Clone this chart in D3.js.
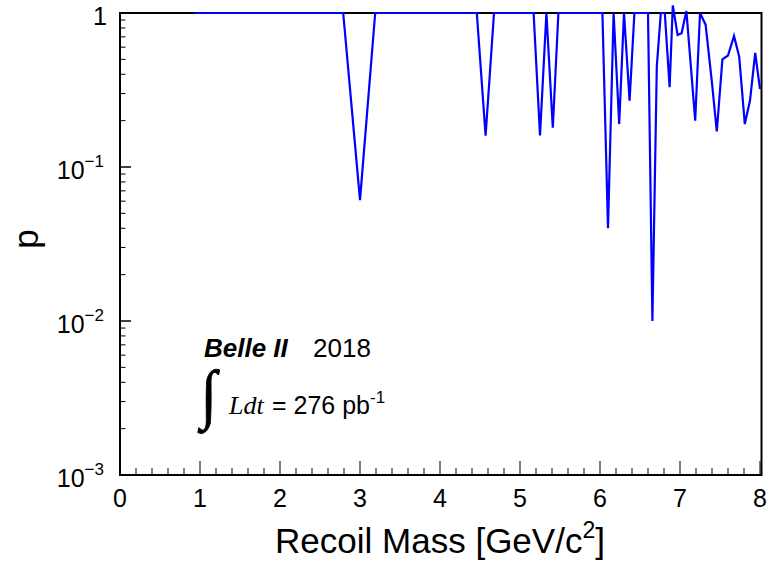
<!DOCTYPE html>
<html><head><meta charset="utf-8">
<script src="https://cdn.jsdelivr.net/npm/d3@7"></script>
<style>body{margin:0;background:#fff}svg{display:block}text{font-family:"Liberation Sans",Arial,sans-serif}</style>
</head><body>
<svg id="c" width="768" height="570"></svg>
<script>
const mass = [0.94, 2.79, 3.0, 3.19, 4.46, 4.57, 4.675, 5.17, 5.25, 5.33, 5.41, 5.48, 6.03, 6.10, 6.17, 6.24, 6.30, 6.37, 6.43, 6.60, 6.655, 6.71, 6.76, 6.81, 6.87, 6.91, 6.97, 7.02, 7.08, 7.19, 7.25, 7.32, 7.40, 7.46, 7.53, 7.60, 7.675, 7.74, 7.81, 7.875, 7.94, 8.0];
const pval = [1, 1, 0.061, 1, 1, 0.16, 1, 1, 0.16, 1, 0.18, 1, 1, 0.040, 1, 0.19, 1, 0.27, 1, 1, 0.010, 0.45, 1, 1, 0.33, 1.12, 0.72, 0.74, 1.03, 0.20, 1, 0.84, 0.35, 0.17, 0.50, 0.53, 0.71, 0.52, 0.19, 0.27, 0.55, 0.32];
const xTicks = [0,1,2,3,4,5,6,7,8];
const yTicks = [1, 0.1, 0.01, 0.001];
const yTickExp = ["", "\u22121", "\u22122", "\u22123"];
const xTitle = "Recoil Mass [GeV/c";
const yTitle = "p";

const svg = d3.select("#c");
const L = 120, R = 761.5, T = 13, B = 475;
const x = d3.scaleLinear().domain([0, 8.0187]).range([L, R]);
const y = d3.scaleLog().domain([1e-3, 1]).range([B, T]);

// x ticks (inside)
const xMinor = d3.range(0, 8.01, 0.2);
svg.append("g").selectAll("line").data(xMinor).join("line")
  .attr("x1", d => x(d)).attr("x2", d => x(d))
  .attr("y1", B).attr("y2", d => Math.abs(d - Math.round(d)) < 1e-6 ? B - 14 : B - 7)
  .attr("stroke", "#000").attr("stroke-width", 1);
// y ticks
const yMinor = [];
[0.001, 0.01, 0.1].forEach(dec => { for (let k = 1; k <= 10; k++) yMinor.push(dec * k); });
svg.append("g").selectAll("line").data(yMinor).join("line")
  .attr("x1", L).attr("y1", d => y(d)).attr("y2", d => y(d))
  .attr("x2", d => { const l = Math.log10(d); return Math.abs(l - Math.round(l)) < 1e-6 ? L + 11 : L + 5.5; })
  .attr("stroke", "#000").attr("stroke-width", 1);

// frame
svg.append("rect").attr("x", L).attr("y", T).attr("width", R - L).attr("height", B - T)
  .attr("fill", "none").attr("stroke", "#000").attr("stroke-width", 2);

// x tick labels
svg.append("g").selectAll("text").data(xTicks).join("text")
  .attr("x", d => x(d)).attr("y", 507).attr("text-anchor", "middle")
  .attr("font-size", 25).text(d => d);

// y tick labels
const yl = svg.append("g").selectAll("text").data(yTicks).join("text")
  .attr("text-anchor", "end").attr("font-size", 25)
  .attr("x", 107).attr("y", d => y(d) + 12);
yl.each(function(d, i) {
  const t = d3.select(this);
  if (i === 0) { t.text("1"); return; }
  t.attr("x", 104);
  t.append("tspan").text("10");
  t.append("tspan").attr("font-size", 17).attr("dy", -12).text(yTickExp[i]);
});

// titles
const xt = svg.append("text").attr("x", 440).attr("y", 553).attr("text-anchor", "middle").attr("font-size", 35);
xt.append("tspan").text(xTitle);
xt.append("tspan").attr("font-size", 23).attr("dy", -15).text("2");
xt.append("tspan").attr("dy", 15).text("]");
svg.append("text").attr("transform", "translate(38,239) rotate(-90)")
  .attr("text-anchor", "middle").attr("font-size", 35).text(yTitle);

// line
const line = d3.line().x((d, i) => x(mass[i])).y((d, i) => y(pval[i]));
svg.append("path").datum(pval).attr("d", line)
  .attr("fill", "none").attr("stroke", "#0000ff").attr("stroke-width", 2.2).attr("stroke-linejoin", "miter");

// annotation
svg.append("text").attr("x", 204).attr("y", 357).attr("font-size", 26)
  .attr("font-weight", "bold").attr("font-style", "italic").text("Belle II");
svg.append("text").attr("x", 313).attr("y", 357).attr("font-size", 26).text("2018");
svg.append("text").attr("transform", "translate(201,415.5) scale(1,1.13)").attr("font-size", 58)
  .attr("stroke", "#000").attr("stroke-width", 0.8)
  .style("font-family", "Liberation Serif, serif").text("\u222B");
svg.append("text").attr("x", 229).attr("y", 414).attr("font-size", 26)
  .attr("font-style", "italic").style("font-family", "Liberation Serif, serif").text("Ldt");
const lum = svg.append("text").attr("x", 272).attr("y", 414).attr("font-size", 25);
lum.append("tspan").text("= 276 pb");
lum.append("tspan").attr("font-size", 17).attr("dy", -11).text("-1");
</script>
</body></html>
